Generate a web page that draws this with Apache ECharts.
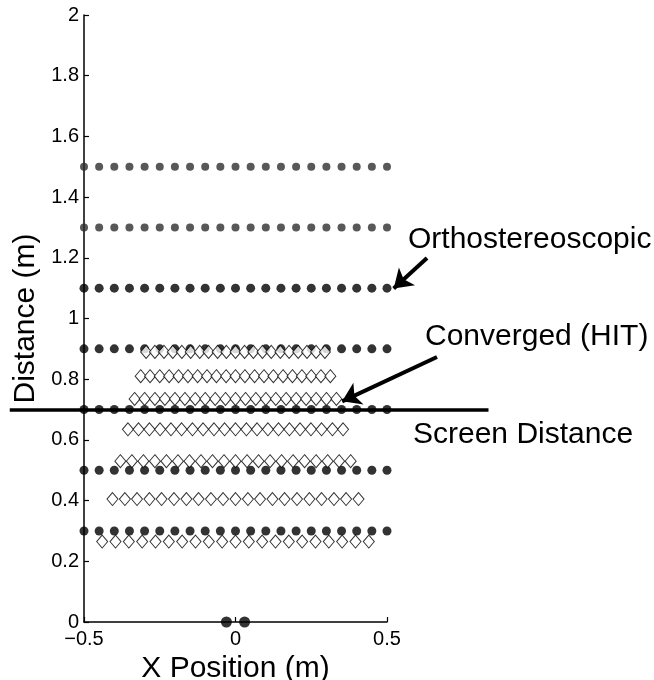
<!DOCTYPE html>
<html>
<head>
    <meta charset="utf-8" />
    <title>Distance vs X Position</title>
    <script src="https://cdn.jsdelivr.net/npm/echarts@6/dist/echarts.min.js"></script>
    <style>
        html, body { margin: 0; padding: 0; background: #fff; }
        #chart { width: 654px; height: 680px; }
    </style>
</head>
<body>
    <div id="chart"></div>
<script type="text/javascript">
// grid columns of the simulated points (m)
var dotX = [-0.5, -0.45, -0.4, -0.35, -0.3, -0.25, -0.2, -0.15, -0.1, -0.05, 0,
            0.05, 0.1, 0.15, 0.2, 0.25, 0.3, 0.35, 0.4, 0.45, 0.5];
// rows of points (distance, m)
var blackRows = [1.1, 0.9, 0.7, 0.5, 0.3];
var grayRows = [1.5, 1.3];

// converged (HIT) perceived rows: distance + x positions
var diamondY = [0.89, 0.81, 0.735, 0.635, 0.53, 0.405, 0.265];
var diamondX = [
    [-0.295, -0.266, -0.236, -0.207, -0.177, -0.148, -0.118, -0.089, -0.059, -0.030, 0, 0.030, 0.059, 0.089, 0.118, 0.148, 0.177, 0.207, 0.236, 0.266, 0.295],
    [-0.313, -0.282, -0.250, -0.219, -0.188, -0.157, -0.125, -0.094, -0.063, -0.031, 0, 0.031, 0.063, 0.094, 0.125, 0.157, 0.188, 0.219, 0.250, 0.282, 0.313],
    [-0.333, -0.300, -0.266, -0.233, -0.200, -0.167, -0.133, -0.100, -0.067, -0.033, 0, 0.033, 0.067, 0.100, 0.133, 0.167, 0.200, 0.233, 0.266, 0.300, 0.333],
    [-0.355, -0.320, -0.284, -0.249, -0.213, -0.178, -0.142, -0.107, -0.071, -0.036, 0, 0.036, 0.071, 0.107, 0.142, 0.178, 0.213, 0.249, 0.284, 0.320, 0.355],
    [-0.380, -0.342, -0.304, -0.266, -0.228, -0.190, -0.152, -0.114, -0.076, -0.038, 0, 0.038, 0.076, 0.114, 0.152, 0.190, 0.228, 0.266, 0.304, 0.342, 0.380],
    [-0.406, -0.365, -0.325, -0.284, -0.244, -0.203, -0.162, -0.122, -0.081, -0.041, 0, 0.041, 0.081, 0.122, 0.162, 0.203, 0.244, 0.284, 0.325, 0.365, 0.406],
    [-0.440, -0.396, -0.352, -0.308, -0.264, -0.220, -0.176, -0.132, -0.088, -0.044, 0, 0.044, 0.088, 0.132, 0.176, 0.220, 0.264, 0.308, 0.352, 0.396, 0.440]
];

// eyes at the origin
var eyeX = [-0.03, 0.03];
var eyeY = [0, 0];

// screen distance line and the two annotation arrows
var screenLine = [[-0.745, 0.7], [0.835, 0.7]];
var orthoArrow = [[0.632, 1.199], [0.522, 1.099]];
var hitArrow = [[0.665, 0.873], [0.352, 0.727]];

var FONT = '"Liberation Sans", Arial, Helvetica, sans-serif';

function rowsToPoints(rows, xs) {
    var pts = [];
    rows.forEach(function(y) {
        xs.forEach(function(x) { pts.push([x, y]); });
    });
    return pts;
}

var diamondPts = [];
diamondY.forEach(function(y, i) {
    diamondX[i].forEach(function(x) { diamondPts.push([x, y]); });
});

var eyePts = eyeX.map(function(x, i) { return [x, eyeY[i]]; });

var chart = echarts.init(document.getElementById('chart'));

chart.setOption({
    animation: false,
    backgroundColor: '#fff',
    grid: {
        left: 84, right: 267, top: 15, bottom: 58,
        containLabel: false,
        outerBoundsMode: 'none'
    },
    xAxis: {
        type: 'value',
        min: -0.5, max: 0.5, interval: 0.5,
        name: 'X Position (m)',
        nameLocation: 'middle',
        nameGap: 20,
        nameTextStyle: { fontFamily: FONT, fontSize: 30, color: '#000' },
        axisLine: { show: true, onZero: false, lineStyle: { color: '#000', width: 1.5 } },
        axisTick: { show: true, inside: true, length: 5, lineStyle: { color: '#000', width: 1.2 } },
        axisLabel: {
            fontFamily: FONT, fontSize: 20, color: '#000', margin: 7,
            formatter: function(v) { return String(v).replace('-', '\u2212'); }
        },
        splitLine: { show: false }
    },
    yAxis: {
        type: 'value',
        min: 0, max: 2, interval: 0.2,
        name: 'Distance (m)',
        nameLocation: 'middle',
        nameRotate: 90,
        nameGap: 43,
        nameTextStyle: { fontFamily: FONT, fontSize: 30, color: '#000' },
        axisLine: { show: true, onZero: false, lineStyle: { color: '#000', width: 1.5 } },
        axisTick: { show: true, inside: true, length: 5, lineStyle: { color: '#000', width: 1.2 } },
        axisLabel: { fontFamily: FONT, fontSize: 20, color: '#000', margin: 5 },
        splitLine: { show: false }
    },
    series: [
        {
            type: 'scatter',
            data: rowsToPoints(grayRows, dotX),
            symbol: 'circle',
            symbolSize: 8,
            itemStyle: { color: '#2e2e2e' },
            z: 2
        },
        {
            type: 'scatter',
            data: rowsToPoints(blackRows, dotX),
            symbol: 'circle',
            symbolSize: 9,
            itemStyle: { color: '#000' },
            z: 2
        },
        {
            type: 'scatter',
            data: diamondPts,
            symbol: 'diamond',
            symbolSize: [11, 13],
            itemStyle: { color: '#fff', borderColor: '#000', borderWidth: 1 },
            z: 3
        },
        {
            type: 'scatter',
            data: eyePts,
            symbol: 'circle',
            symbolSize: 11,
            clip: false,
            itemStyle: { color: '#000' },
            z: 4
        },
        {
            type: 'lines',
            coordinateSystem: 'cartesian2d',
            clip: false,
            symbol: ['none', 'none'],
            lineStyle: { color: '#000', width: 3.5, opacity: 1, curveness: 0 },
            data: [{ coords: screenLine }],
            z: 5
        },
        {
            type: 'lines',
            coordinateSystem: 'cartesian2d',
            clip: false,
            symbol: ['none', 'arrow'],
            symbolSize: 18,
            lineStyle: { color: '#000', width: 4, opacity: 1, curveness: 0 },
            data: [{ coords: orthoArrow }, { coords: hitArrow }],
            z: 5
        }
    ],
    graphic: [
        { type: 'text', left: 408, top: 225, style: { text: 'Orthostereoscopic', font: '30px ' + FONT, fill: '#000' } },
        { type: 'text', left: 425, top: 322, style: { text: 'Converged (HIT)', font: '30px ' + FONT, fill: '#000' } },
        { type: 'text', left: 413, top: 420, style: { text: 'Screen Distance', font: '30px ' + FONT, fill: '#000' } }
    ]
});
</script>
</body>
</html>
